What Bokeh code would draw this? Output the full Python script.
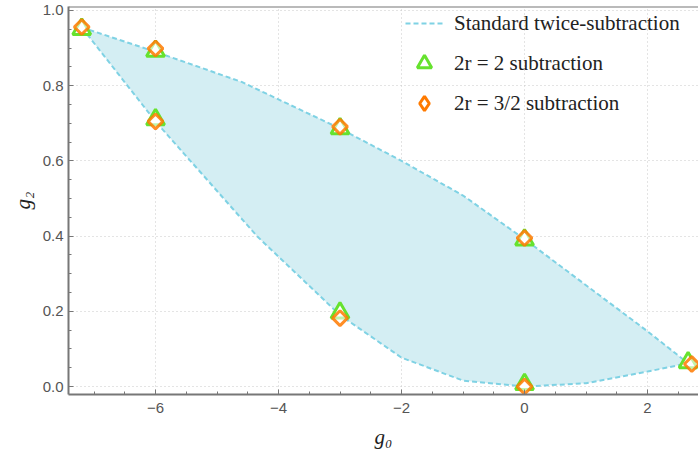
import math
from bokeh.plotting import figure
from bokeh.models import Range1d, Legend, LegendItem, FixedTicker, Span
from bokeh.embed import file_html
from bokeh.resources import INLINE

# boundary of the "standard twice-subtraction" region
upper_x = [-7.2, -6.0, -4.6, -3.0, -2.0, -1.0, 0.0, 2.0, 2.66]
upper_y = [0.955, 0.89, 0.81, 0.686, 0.60, 0.508, 0.392, 0.147, 0.062]
lower_x = [-7.2, -6.0, -4.35, -3.0, -2.0, -1.0, 0.0, 1.0, 2.0, 2.66]
lower_y = [0.955, 0.705, 0.40, 0.19, 0.077, 0.016, 0.0, 0.009, 0.04, 0.062]

# 2r = 2 subtraction
tri_x = [-7.2, -6.0, -6.0, -3.0, -3.0, 0.0, 0.0, 2.66]
tri_y = [0.95, 0.892, 0.71, 0.686, 0.196, 0.39, 0.006, 0.064]
# 2r = 3/2 subtraction
dia_x = [-7.2, -6.0, -6.0, -3.0, -3.0, 0.0, 0.0, 2.72]
dia_y = [0.956, 0.899, 0.705, 0.691, 0.182, 0.395, 0.0, 0.06]

x_ticks = [-6, -4, -2, 0, 2]
y_ticks = [0.0, 0.2, 0.4, 0.6, 0.8, 1.0]

poly_x = upper_x + lower_x[::-1]
poly_y = upper_y + lower_y[::-1]

y_top = 1.0105
p = figure(width=698, height=456, output_backend="svg", toolbar_location=None,
           title=None,
           x_range=Range1d(-7.415, 2.829), y_range=Range1d(-0.021, y_top),
           min_border_left=68, min_border_right=0, min_border_top=6, min_border_bottom=62,
           x_axis_label="g\u2080", y_axis_label="g\u2082")
axis_color = "#777777"
p.outline_line_color = None
p.background_fill_color = "white"

x_minor = [v / 2 for v in range(-14, 6)]
for ax in p.xaxis + p.yaxis:
    ax.axis_line_color = axis_color
    ax.axis_line_width = 2
    ax.major_tick_line_color = axis_color
    ax.minor_tick_line_color = axis_color
    ax.major_tick_in = 5
    ax.major_tick_out = 0
    ax.minor_tick_in = 3
    ax.minor_tick_out = 0
    ax.major_label_text_font = "Liberation Sans"
    ax.major_label_text_font_size = "15px"
    ax.major_label_text_color = "#555555"
    ax.axis_label_text_font = "Liberation Serif"
    ax.axis_label_text_font_style = "italic"
    ax.axis_label_text_font_size = "21px"
    ax.axis_label_text_color = "#222222"

p.xaxis.ticker = FixedTicker(ticks=x_ticks, minor_ticks=x_minor)
p.yaxis.ticker = FixedTicker(ticks=y_ticks, minor_ticks=[v / 20 for v in range(0, 21)])
p.xaxis.major_label_overrides = {t: ("\u2212" + str(abs(t)) if t < 0 else str(t)) for t in x_ticks}
p.yaxis.major_label_overrides = {t: f"{t:.1f}" for t in y_ticks}
p.xaxis.major_label_standoff = 8
p.yaxis.major_label_standoff = 5
p.xaxis.axis_label_standoff = 9
p.yaxis.axis_label_standoff = 5

# top frame edge
p.add_layout(Span(location=y_top, dimension="width", line_color=axis_color, line_width=2,
                  level="overlay"))

p.xgrid.ticker = FixedTicker(ticks=x_ticks)
p.ygrid.ticker = FixedTicker(ticks=y_ticks)
p.grid.grid_line_color = "#c8c8c8"
p.grid.grid_line_dash = "1 3"
p.grid.grid_line_width = 1

p.patch(poly_x, poly_y, fill_color="#d4eef3", fill_alpha=1.0, line_alpha=0)
r_line = p.line(poly_x, poly_y, line_color="#7fd2e4", line_width=2, line_dash="5 3")
r_tri = p.scatter(tri_x, tri_y, marker="triangle", size=18, fill_color="white",
                  line_color="#66e22e", line_width=3)
p.scatter(dia_x, dia_y, marker="square", size=10.5, angle=math.pi / 4,
          fill_color="white", fill_alpha=0.6, line_color="#ff7a00", line_alpha=0.85, line_width=3)
# legend-only glyph for the diamonds (a single point with no position)
r_dia_leg = p.scatter(x=[float("nan")], y=[float("nan")], marker="diamond", size=15,
                      fill_color="white", line_color="#ff7a00", line_width=3)

legend = Legend(items=[
    LegendItem(label="Standard twice-subtraction", renderers=[r_line]),
    LegendItem(label="2r = 2 subtraction", renderers=[r_tri]),
    LegendItem(label="2r = 3/2 subtraction", renderers=[r_dia_leg]),
], location=(337, 273))
legend.background_fill_alpha = 0
legend.border_line_alpha = 0
legend.padding = 0
legend.margin = 0
legend.spacing = 4
legend.glyph_width = 38
legend.glyph_height = 36
legend.label_height = 20
legend.label_standoff = 11
legend.label_text_font = "Liberation Serif"
legend.label_text_font_size = "21px"
legend.label_text_color = "#222222"
p.add_layout(legend)

open("out.html", "w").write(file_html(p, INLINE))
